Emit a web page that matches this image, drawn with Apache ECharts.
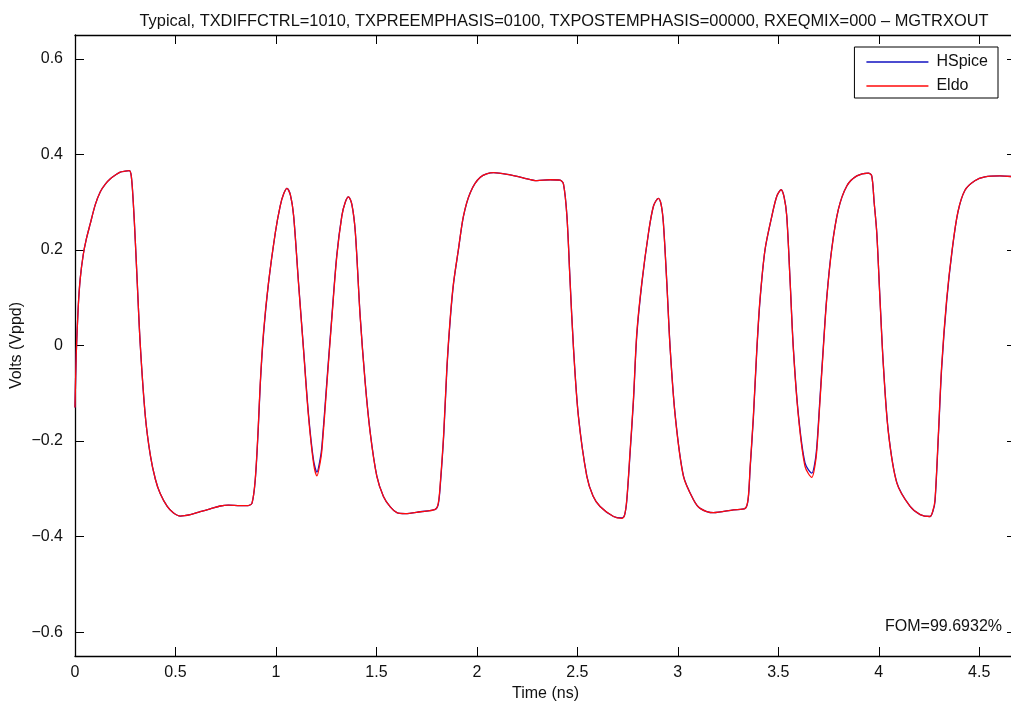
<!DOCTYPE html>
<html>
<head>
<meta charset="utf-8">
<script src="https://cdn.jsdelivr.net/npm/echarts@6/dist/echarts.min.js"></script>
<style>html,body{margin:0;padding:0;background:#fff}#c{width:1011px;height:704px}</style>
</head>
<body>
<div id="c"></div>
<script>
var titleText = 'Typical, TXDIFFCTRL=1010, TXPREEMPHASIS=0100, TXPOSTEMPHASIS=00000, RXEQMIX=000 \u2013 MGTRXOUT';
var fomText = 'FOM=99.6932%';
var xTicks = [0, 0.5, 1, 1.5, 2, 2.5, 3, 3.5, 4, 4.5];
var yTicks = [-0.6, -0.4, -0.2, 0, 0.2, 0.4, 0.6];
var seriesNames = ['HSpice', 'Eldo'];

var timeNs = [
0.000,0.006,0.016,0.026,0.041,0.056,0.076,0.101,0.126,0.151,0.176,0.201,0.225,0.250,0.270,0.280,0.290,0.300,0.310,0.325,
0.350,0.375,0.400,0.424,0.459,0.489,0.524,0.574,0.623,0.673,0.723,0.763,0.822,0.862,0.881,0.897,0.912,0.922,0.938,0.963,
0.997,1.021,1.039,1.055,1.072,1.088,1.112,1.137,1.162,1.187,1.204,1.220,1.229,1.254,1.279,1.303,1.328,1.345,1.361,1.378,
1.395,1.419,1.444,1.469,1.502,1.535,1.569,1.602,1.643,1.718,1.793,1.808,1.818,1.835,1.851,1.868,1.884,1.908,1.933,1.967,
2.017,2.083,2.166,2.230,2.299,2.365,2.414,2.431,2.448,2.464,2.481,2.505,2.547,2.578,2.613,2.680,2.721,2.735,2.746,2.763,
2.779,2.796,2.821,2.854,2.879,2.903,2.917,2.928,2.945,2.962,2.987,3.028,3.078,3.111,3.177,3.277,3.335,3.350,3.360,3.376,
3.393,3.409,3.434,3.468,3.493,3.514,3.529,3.542,3.559,3.575,3.600,3.633,3.667,3.683,3.692,3.708,3.724,3.741,3.766,3.799,
3.841,3.891,3.948,3.965,3.977,3.990,4.006,4.023,4.048,4.090,4.156,4.206,4.255,4.270,4.280,4.297,4.313,4.338,4.365,4.394,
4.429,4.478,4.528,4.603,4.683
];

var eldoV = [
-0.130,-0.020,0.080,0.140,0.190,0.222,0.255,0.295,0.322,0.338,0.349,0.357,0.363,0.365,0.366,0.355,0.300,0.220,0.130,0.000,
-0.148,-0.230,-0.280,-0.310,-0.337,-0.350,-0.357,-0.354,-0.348,-0.342,-0.336,-0.334,-0.335,-0.335,-0.330,-0.280,-0.170,-0.078,0.027,0.132,
0.237,0.292,0.318,0.329,0.315,0.271,0.132,-0.008,-0.148,-0.246,-0.273,-0.245,-0.218,-0.078,0.061,0.187,0.271,0.300,0.311,0.295,
0.237,0.061,-0.078,-0.183,-0.274,-0.316,-0.338,-0.350,-0.352,-0.348,-0.343,-0.330,-0.288,-0.183,-0.043,0.061,0.132,0.201,0.271,0.320,
0.352,0.362,0.357,0.351,0.345,0.347,0.346,0.338,0.271,0.132,-0.008,-0.148,-0.274,-0.315,-0.337,-0.358,-0.362,-0.355,-0.323,-0.218,
-0.113,0.027,0.132,0.236,0.292,0.308,0.295,0.257,0.132,-0.008,-0.148,-0.274,-0.323,-0.341,-0.350,-0.344,-0.341,-0.320,-0.253,-0.148,
-0.008,0.097,0.201,0.271,0.313,0.326,0.310,0.271,0.132,-0.008,-0.148,-0.253,-0.276,-0.250,-0.218,-0.113,-0.008,0.097,0.201,0.285,
0.334,0.355,0.361,0.355,0.300,0.236,0.097,-0.043,-0.183,-0.288,-0.337,-0.354,-0.358,-0.345,-0.323,-0.183,-0.043,0.097,0.200,0.280,
0.325,0.345,0.353,0.355,0.353
];

var hspiceV = [
-0.130,-0.020,0.080,0.140,0.190,0.222,0.255,0.295,0.322,0.338,0.349,0.357,0.363,0.365,0.366,0.355,0.300,0.220,0.130,0.000,
-0.148,-0.230,-0.280,-0.310,-0.337,-0.350,-0.357,-0.354,-0.348,-0.342,-0.336,-0.334,-0.335,-0.335,-0.330,-0.282,-0.175,-0.082,0.022,0.130,
0.236,0.292,0.318,0.329,0.315,0.272,0.134,-0.005,-0.144,-0.240,-0.265,-0.238,-0.210,-0.072,0.065,0.190,0.272,0.300,0.311,0.295,
0.238,0.063,-0.076,-0.181,-0.273,-0.316,-0.338,-0.350,-0.352,-0.348,-0.343,-0.332,-0.292,-0.188,-0.048,0.057,0.130,0.200,0.270,0.320,
0.352,0.362,0.357,0.351,0.345,0.347,0.346,0.338,0.272,0.134,-0.006,-0.146,-0.273,-0.315,-0.337,-0.358,-0.361,-0.355,-0.325,-0.222,
-0.118,0.022,0.130,0.235,0.292,0.308,0.295,0.258,0.134,-0.006,-0.146,-0.273,-0.323,-0.341,-0.350,-0.344,-0.341,-0.322,-0.257,-0.152,
-0.012,0.094,0.200,0.271,0.313,0.326,0.311,0.272,0.134,-0.005,-0.144,-0.246,-0.267,-0.243,-0.210,-0.107,-0.003,0.100,0.203,0.285,
0.334,0.355,0.361,0.355,0.300,0.237,0.099,-0.041,-0.181,-0.287,-0.337,-0.354,-0.358,-0.346,-0.326,-0.188,-0.048,0.093,0.198,0.279,
0.325,0.345,0.353,0.355,0.353
];

function pairs(xs, ys){ var out=[]; for (var i=0;i<xs.length;i++) out.push([xs[i], ys[i]]); return out; }
function fmt(v){ if (v === 0) return '0'; return (v<0?'\u2212':'') + Math.abs(v).toString(); }

var font = 'Liberation Sans, Arial, Helvetica, sans-serif';
var fs = 16;
var axisCommon = {
  axisLine: {show: true, onZero: false, lineStyle: {color: '#000', width: 1.3}},
  splitLine: {show: false}
};

var chart = echarts.init(document.getElementById('c'), null, {renderer: 'canvas'});
chart.setOption({
  animation: false,
  backgroundColor: '#fff',
  title: {
    text: titleText, left: 559, top: 8, textAlign: 'center',
    textStyle: {fontFamily: font, fontSize: 16.4, fontWeight: 'normal', color: '#111'}
  },
  grid: {left: 75, top: 35, width: 941, bottom: 48, containLabel: false, outerBoundsMode: 'none'},
  legend: {
    data: seriesNames.map(function(n){ return {name: n, icon: 'rect'}; }),
    orient: 'vertical', right: 13, top: 47,
    itemWidth: 62, itemHeight: 1.3, itemGap: 8,
    padding: [7, 10, 4, 12],
    borderColor: '#000', borderWidth: 1, backgroundColor: '#fff', borderRadius: 0,
    textStyle: {fontFamily: font, fontSize: fs, color: '#111', padding: [0,0,0,3], lineHeight: 16}
  },
  xAxis: [
    Object.assign({}, axisCommon, {
      type: 'value', min: 0, max: 4.683, position: 'bottom',
      name: 'Time (ns)', nameLocation: 'middle', nameGap: 30, nameMoveOverlap: false,
      nameTextStyle: {fontFamily: font, fontSize: fs, color: '#111'},
      axisTick: {show: true, inside: true, length: 9, customValues: xTicks, lineStyle: {color: '#000'}},
      axisLabel: {show: true, margin: 9, customValues: xTicks, fontFamily: font, fontSize: fs, color: '#111', formatter: fmt}
    }),
    Object.assign({}, axisCommon, {
      type: 'value', min: 0, max: 4.683, position: 'top',
      axisTick: {show: true, inside: true, length: 9, customValues: xTicks, lineStyle: {color: '#000'}},
      axisLabel: {show: false}
    })
  ],
  yAxis: [
    Object.assign({}, axisCommon, {
      type: 'value', min: -0.65, max: 0.65, position: 'left',
      name: 'Volts (Vppd)', nameLocation: 'middle', nameGap: 50, nameMoveOverlap: false,
      nameTextStyle: {fontFamily: font, fontSize: fs, color: '#111'},
      axisTick: {show: true, inside: true, length: 9, customValues: yTicks, lineStyle: {color: '#000'}},
      axisLabel: {show: true, margin: 12, customValues: yTicks, fontFamily: font, fontSize: fs, color: '#111', formatter: fmt}
    }),
    Object.assign({}, axisCommon, {
      type: 'value', min: -0.65, max: 0.65, position: 'right',
      axisTick: {show: true, inside: true, length: 9, customValues: yTicks, lineStyle: {color: '#000'}},
      axisLabel: {show: false}
    })
  ],
  series: [
    {name: seriesNames[0], type: 'line', data: pairs(timeNs, hspiceV), showSymbol: false, symbol: 'none', smooth: 0.3,
     lineStyle: {color: '#1010c0', width: 1.3}, itemStyle: {color: '#1010c0'}, z: 2},
    {name: seriesNames[1], type: 'line', data: pairs(timeNs, eldoV), showSymbol: false, symbol: 'none', smooth: 0.3,
     lineStyle: {color: '#ff0a0a', width: 1.3}, itemStyle: {color: '#ff0a0a'}, z: 3}
  ],
  graphic: [
    {type: 'text', right: 9, top: 619, style: {text: fomText, font: fs + 'px ' + font, fill: '#111'}}
  ]
});
</script>
</body>
</html>
